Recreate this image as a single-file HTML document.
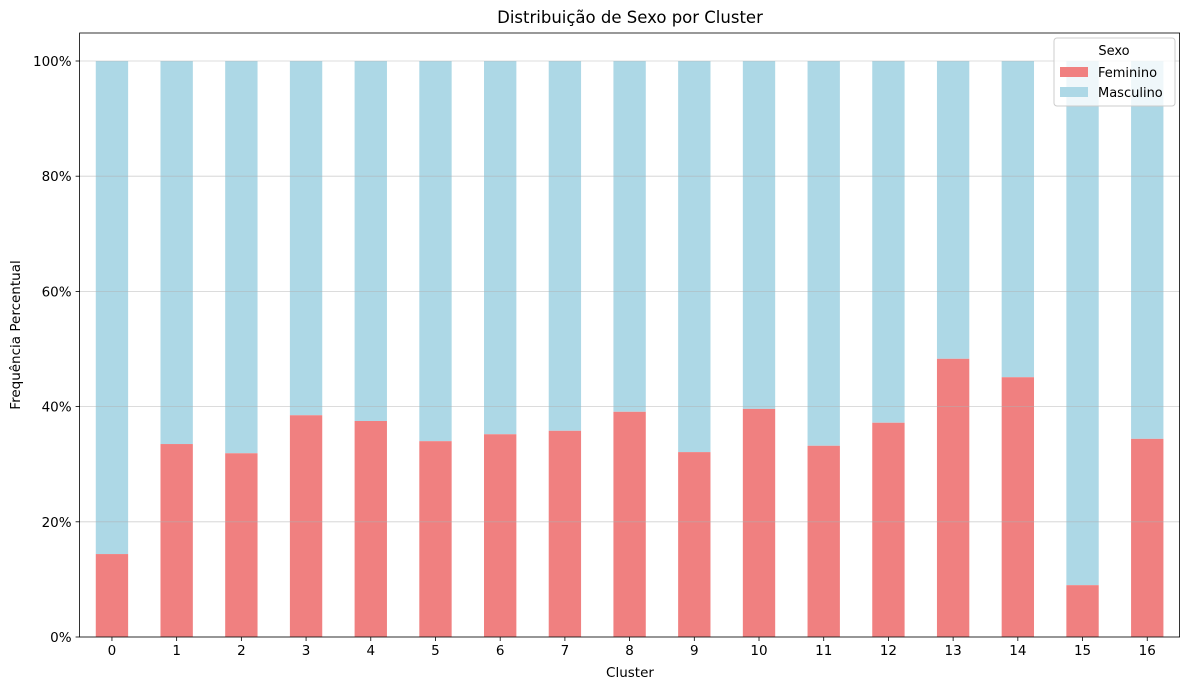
<!DOCTYPE html>
<html><head><meta charset="utf-8"><style>
body{margin:0;background:#fff;font-family:"Liberation Sans","DejaVu Sans",sans-serif;}
svg text{font-family:"DejaVu Sans","Liberation Sans",sans-serif;}
</style></head><body>
<svg id="chart" width="1190" height="690"></svg>
<script>
const categories=["0","1","2","3","4","5","6","7","8","9","10","11","12","13","14","15","16"];
const feminino=[14.4,33.5,31.9,38.5,37.5,34.0,35.2,35.8,39.1,32.1,39.6,33.2,37.2,48.3,45.1,9.0,34.4];
const yTicks=[0,20,40,60,80,100];
const yTickLabels=["0%","20%","40%","60%","80%","100%"];
const svg=document.getElementById('chart');
const NS='http://www.w3.org/2000/svg';
const L=79.6,R=1179.6,T=33,B=637;
const y=v=>B-v*5.76;
const step=(R-L)/categories.length;
const x=i=>L+step*(i+0.5);
function mk(t,a,p){const e=document.createElementNS(NS,t);for(const k in a)e.setAttribute(k,a[k]);(p||svg).appendChild(e);return e;}
const bars=mk('g',{});


categories.forEach((c,i)=>{
  const bw=step*0.5,f=feminino[i];
  const m=mk('rect',{x:x(i)-bw/2,y:y(100),width:bw,height:y(f)-y(100),fill:'#add8e6'},bars);
  
  
  const r=mk('rect',{x:x(i)-bw/2,y:y(f),width:bw,height:B-y(f),fill:'#f08080'},bars);
  
  
  mk('line',{x1:x(i),x2:x(i),y1:B,y2:B+4,stroke:'#000','stroke-width':0.8});
  const t=mk('text',{x:x(i),y:B+18,'text-anchor':'middle','font-size':13.5});
  t.textContent=c;
  
  
});
yTicks.forEach((v,i)=>{
  const g=mk('line',{x1:L,x2:R,y1:y(v),y2:y(v),stroke:'#b0b0b0','stroke-opacity':0.6,'stroke-width':0.8});
  
  
  mk('line',{x1:L-4,x2:L,y1:y(v),y2:y(v),stroke:'#000','stroke-width':0.8});
  const t=mk('text',{x:L-8,y:y(v)+5,'text-anchor':'end','font-size':13.5});
  t.textContent=yTickLabels[i];
  
  
});
const fr=mk('rect',{x:L,y:T,width:R-L,height:B-T,fill:'none',stroke:'#000','stroke-width':0.8});


</script>
<svg width="1190" height="690" style="position:absolute;left:0;top:0">
<text x="630" y="23" text-anchor="middle" font-size="16.5">Distribuição de Sexo por Cluster</text>
<text x="630" y="677" text-anchor="middle" font-size="13.5">Cluster</text>
<text x="20" y="335" text-anchor="middle" font-size="13.5" transform="rotate(-90 20 335)">Frequência Percentual</text>
<g>
<rect x="1054" y="38" width="121" height="68" rx="3" fill="#fff" fill-opacity="0.8" stroke="#ccc"/>
<text x="1114" y="55" text-anchor="middle" font-size="13">Sexo</text>
<rect x="1060" y="67" width="28" height="10" fill="#f08080"/>
<text x="1098" y="77" font-size="13">Feminino</text>
<rect x="1060" y="87" width="28" height="10" fill="#add8e6"/>
<text x="1098" y="97" font-size="13">Masculino</text>
</g>
</svg>
</body></html>
